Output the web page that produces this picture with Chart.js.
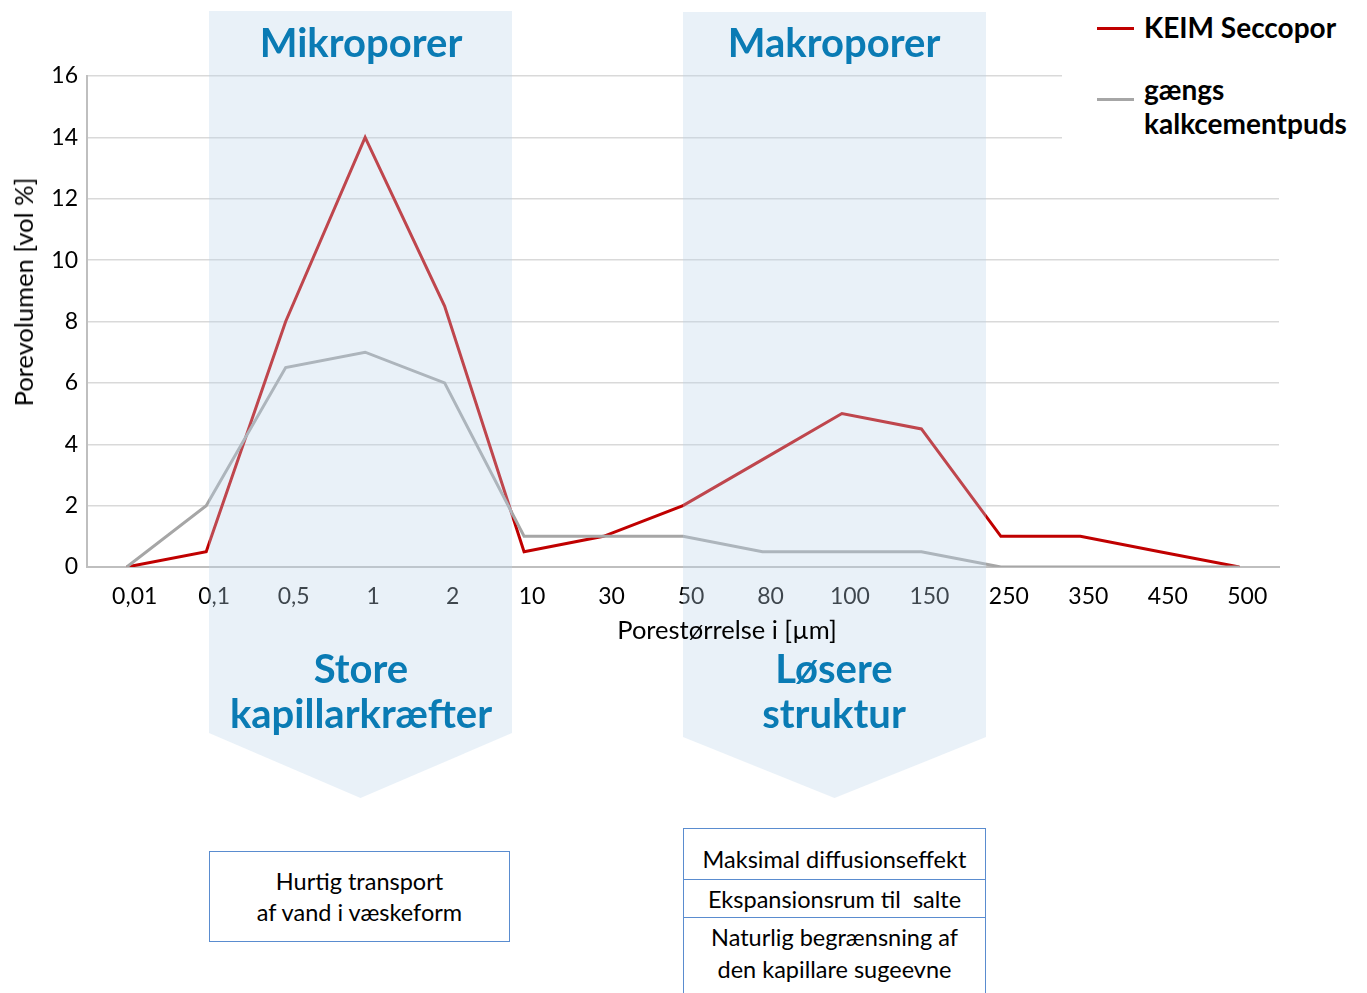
<!DOCTYPE html>
<html>
<head>
<meta charset="utf-8">
<script src="https://cdn.jsdelivr.net/npm/chart.js@4.4.1/dist/chart.umd.min.js"></script>
<style>
  body { margin: 0; background: #fff; }
  #wrap { position: relative; width: 1367px; height: 993px; overflow: hidden; font-family: Lato, sans-serif; color: #000; }
  #chart { position: absolute; left: 0; top: 0; }
  .band { position: absolute; background: rgba(188, 213, 234, 0.33); }
  .lbl { position: absolute; transform: translate(-50%, -50%); white-space: nowrap; }
  .head { font-weight: 700; font-size: 40px; color: #0a7bb4; text-align: center; line-height: 45px; }
  .legend { position: absolute; left: 1062px; top: 0; width: 305px; height: 150px; background: #fff; }
  .swatch { position: absolute; width: 37px; height: 3px; }
  .legtext { position: absolute; font-weight: 700; font-size: 28px; line-height: 34px; white-space: nowrap; }
  .box { position: absolute; border: 1px solid #5a8ccf; background: #fff; font-size: 23.5px; text-align: center; }
  .row { border-bottom: 1px solid #5a8ccf; box-sizing: border-box; display: flex; align-items: center; justify-content: center; line-height: 32px; white-space: nowrap; }
</style>
</head>
<body>
<div id="wrap">
  <canvas id="chart" width="1367" height="993"></canvas>

  <div class="band" style="left:209px;top:11px;width:303px;height:787px;clip-path:polygon(0 0,100% 0,100% 722px,50% 100%,0 722px);"></div>
  <div class="band" style="left:683px;top:12px;width:303px;height:786px;clip-path:polygon(0 0,100% 0,100% 725px,50% 100%,0 725px);"></div>

  <div class="lbl head" style="left:361px;top:42px;">Mikroporer</div>
  <div class="lbl head" style="left:834px;top:42px;">Makroporer</div>
  <div class="lbl head" style="left:361px;top:691px;">Store<br>kapillarkræfter</div>
  <div class="lbl head" style="left:834px;top:691px;">Løsere<br>struktur</div>

  <div class="lbl" style="left:23px;top:292px;font-size:25.5px;transform:translate(-50%,-50%) rotate(-90deg);">Porevolumen [vol %]</div>
  <div class="lbl" style="left:727px;top:629px;font-size:25.5px;">Porestørrelse i [µm]</div>

  <div class="legend">
    <div class="swatch" style="left:35px;top:27px;background:#c00000;"></div>
    <div class="legtext" style="left:82px;top:10px;">KEIM Seccopor</div>
    <div class="swatch" style="left:35px;top:98px;background:#a6a6a6;"></div>
    <div class="legtext" style="left:82px;top:72px;">gængs<br>kalkcementpuds</div>
  </div>

  <div class="box" style="left:209px;top:851px;width:299px;height:89px;display:flex;align-items:center;justify-content:center;line-height:31px;">
    <div>Hurtig transport<br>af vand i væskeform</div>
  </div>
  <div class="box" style="left:683px;top:828px;width:301px;height:180px;">
    <div class="row" style="height:51px;padding-top:10px;">Maksimal diffusionseffekt</div>
    <div class="row" style="height:38px;">Ekspansionsrum til&nbsp; salte</div>
    <div class="row" style="height:70px;border-bottom:none;">Naturlig begrænsning af<br>den kapillare sugeevne</div>
  </div>
</div>

<script>
const poreSizes = ["0,01", "0,1", "0,5", "1", "2", "10", "30", "50", "80", "100", "150", "250", "350", "450", "500"];
const keimSeccopor = [0, 0.5, 8, 14, 8.5, 0.5, 1, 2, 3.5, 5, 4.5, 1, 1, 0.5, 0];
const kalkcementpuds = [0, 2, 6.5, 7, 6, 1, 1, 1, 0.5, 0.5, 0.5, 0, 0, 0, 0];
const yTicks = [0, 2, 4, 6, 8, 10, 12, 14, 16];

const tickFont = { family: "Lato, sans-serif", size: 23 };

new Chart(document.getElementById("chart"), {
  type: "line",
  data: {
    labels: poreSizes,
    datasets: [
      {
        label: "gængs kalkcementpuds",
        data: kalkcementpuds,
        borderColor: "#a6a6a6",
        borderWidth: 3,
        pointRadius: 0,
        tension: 0
      },
      {
        label: "KEIM Seccopor",
        data: keimSeccopor,
        borderColor: "#c00000",
        borderWidth: 3,
        pointRadius: 0,
        tension: 0
      }
    ]
  },
  options: {
    responsive: false,
    animation: false,
    layout: { padding: { left: 0, top: 76, right: 88, bottom: 356 } },
    plugins: { legend: { display: false }, tooltip: { enabled: false } },
    scales: {
      x: {
        offset: true,
        grid: { display: false },
        border: { display: true, color: "#bfbfbf", width: 2 },
        ticks: { color: "#000", font: tickFont, padding: 8, labelOffset: 8, autoSkip: false, maxRotation: 0 },
        afterFit: (scale) => { scale.height = 70; }
      },
      y: {
        min: 0,
        max: 16,
        afterBuildTicks: (scale) => { scale.ticks = yTicks.map(v => ({ value: v })); },
        grid: { color: "#d9d9d9", lineWidth: 1.5, drawTicks: false },
        border: { display: true, color: "#bfbfbf", width: 2 },
        ticks: { color: "#000", font: tickFont, padding: 9 },
        afterFit: (scale) => { scale.width = 87; }
      }
    }
  }
});
</script>
</body>
</html>
